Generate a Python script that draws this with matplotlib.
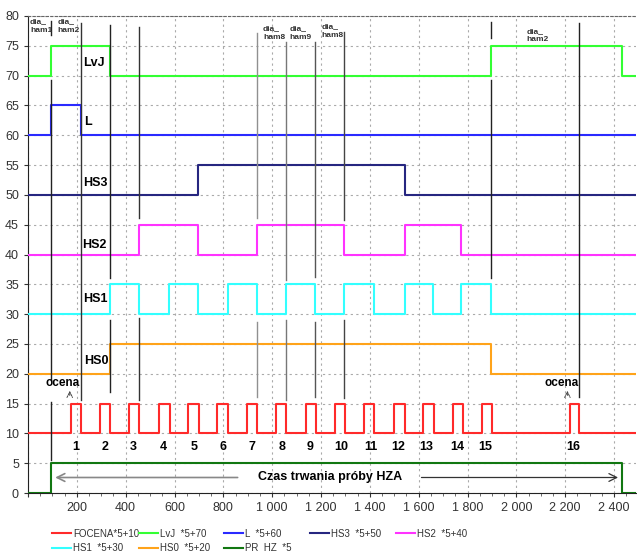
import numpy as np
import matplotlib
matplotlib.use('Agg')
import matplotlib.pyplot as plt
from matplotlib.lines import Line2D
from matplotlib.ticker import FuncFormatter, MultipleLocator

plt.rcParams['font.family'] = ['Liberation Sans', 'DejaVu Sans']

# --- data: edges (x) of 0/1 step signals, values between edges ---
x_end = 2490
focena_x = [0, 176, 218, 296, 335, 413, 454, 536, 580, 656, 699, 775, 819, 897, 939,
            1017, 1058, 1137, 1178, 1258, 1299, 1378, 1419, 1497, 1542, 1617, 1661,
            1740, 1781, 1860, 1899, 2220, 2258]
lvj_x = [0, 93, 335, 1898, 2433]
l_x = [0, 93, 216]
hs3_x = [0, 697, 1542]
hs2_x = [0, 454, 697, 937, 1296, 1542, 1775]
hs1_x = [0, 335, 454, 577, 697, 819, 937, 1058, 1177, 1296, 1418, 1542, 1660, 1775, 1898]
hs0_x = [0, 335, 1898]
prhz_x = [0, 93, 2433]

series_names = ['FOCENA*5+10', 'LvJ  *5+70', 'L  *5+60', 'HS3  *5+50', 'HS2  *5+40',
                'HS1  *5+30', 'HS0  *5+20', 'PR  HZ  *5']
series_edges = [focena_x, lvj_x, l_x, hs3_x, hs2_x, hs1_x, hs0_x, prhz_x]
series_offsets = [10, 70, 60, 50, 40, 30, 20, 0]
series_colors = ['#ff2a2a', '#33ff33', '#2a2aff', '#262680', '#ff33ff',
                 '#33ffff', '#ffa31a', '#117711']

# signal name labels
name_labels = ['LvJ', 'L', 'HS3', 'HS2', 'HS1', 'HS0']
name_x = [226, 230, 226, 222, 226, 230]
name_y = [72.2, 62.2, 52.0, 41.6, 32.6, 22.2]

# pulse numbers
pulse_nums = [str(i) for i in range(1, 17)]
pulse_x = [196, 314, 433, 553, 680, 800, 916, 1039, 1157, 1283, 1403, 1517, 1630, 1759, 1872, 2234]

# vertical marker lines: x, list of (y0, y1), colour
marker_x = [93, 216, 335, 454, 937, 1058, 1176, 1296, 1898, 2258]
marker_segs = [[(79.2, 76.8), (69.3, 19.0), (15.3, 5.5)],
               [(78.9, 15.6)],
               [(78.5, 36.1), (29.0, 16.9)],
               [(78.2, 46.1), (29.4, 15.6)],
               [(77.2, 46.1), (28.7, 16.1)],
               [(75.7, 35.7), (29.0, 15.6)],
               [(75.7, 36.2), (28.7, 16.1)],
               [(77.3, 45.8), (29.0, 15.9)],
               [(79.0, 76.3), (69.3, 36.1)],
               [(78.9, 16.1)]]
marker_colors = ['#222222', '#333333', '#222222', '#333333', '#909090', '#777777',
                 '#555555', '#444444', '#222222', '#222222']

dia_labels = ['dia_\nham1', 'dia_\nham2', 'dia_\nham8', 'dia_\nham9', 'dia_\nham8', 'dia_\nham2']
dia_x = [8, 120, 962, 1072, 1202, 2042]
dia_y = [79.6, 79.6, 78.4, 78.4, 78.8, 78.0]

fig = plt.figure(figsize=(6.37, 5.58), dpi=100)
ax = fig.add_axes([28 / 637, 65 / 558, 608 / 637, 477 / 558])

for edges, off, col in zip(series_edges, series_offsets, series_colors):
    xs = list(edges) + [x_end]
    vals = [(i % 2) * 5 + off for i in range(len(edges))]
    vals = vals + [vals[-1]]
    ax.plot(xs, vals, drawstyle='steps-post', color=col, lw=1.5, zorder=3)

for x, segs, c in zip(marker_x, marker_segs, marker_colors):
    for y0, y1 in segs:
        ax.plot([x, x], [y0, y1], color=c, lw=1.0, zorder=4)

for t, x, y in zip(name_labels, name_x, name_y):
    ax.text(x, y, t, fontsize=9, fontweight='bold', ha='left', va='center', zorder=5)

for t, x in zip(pulse_nums, pulse_x):
    ax.text(x, 7.7, t, fontsize=9, fontweight='bold', ha='center', va='center', zorder=5)

for t, x, y in zip(dia_labels, dia_x, dia_y):
    ax.text(x, y, t, fontsize=6, fontweight='bold', ha='left', va='top', color='#333333',
            linespacing=1.3, zorder=5)

# ocena annotations
for xc, xa in [(142, 171), (2185, 2209)]:
    ax.text(xc, 18.4, 'ocena', fontsize=8.5, fontweight='bold', ha='center', va='center', zorder=5)
    ax.annotate('', xy=(xa, 17.6), xytext=(xa, 15.9),
                arrowprops=dict(arrowstyle='->', color='#444444', lw=0.7, linestyle=(0, (2, 1))))

# test duration arrow
ax.text(1236, 2.6, 'Czas trwania próby HZA', fontsize=9, fontweight='bold', ha='center',
        va='center', zorder=5)
ax.annotate('', xy=(100, 2.6), xytext=(870, 2.6),
            arrowprops=dict(arrowstyle='->', color='#888888', lw=1.2, mutation_scale=14))
ax.annotate('', xy=(2428, 2.6), xytext=(1600, 2.6),
            arrowprops=dict(arrowstyle='->', color='#333333', lw=0.9, mutation_scale=14))

ax.set_xlim(0, x_end)
ax.set_ylim(0, 80)
ax.xaxis.set_major_locator(MultipleLocator(200))
ax.xaxis.set_minor_locator(MultipleLocator(50))
ax.yaxis.set_major_locator(MultipleLocator(5))
ax.xaxis.set_major_formatter(FuncFormatter(
    lambda v, p: '' if v <= 0 else '{:,}'.format(int(v)).replace(',', ' ')))
ax.grid(True, which='major', color='#aaaaaa', linestyle=(0, (2, 3)), lw=0.8)
ax.tick_params(axis='both', labelsize=9, labelcolor='#333333', length=3, color='#333333')
ax.tick_params(axis='x', which='minor', length=2, color='#555555')
ax.spines['right'].set_visible(False)
ax.spines['top'].set_linestyle((0, (2, 2)))
ax.spines['top'].set_color('#666666')
ax.spines['left'].set_color('#222222')
ax.spines['bottom'].set_color('#222222')
ax.set_axisbelow(True)

# legend, five fixed-width columns
col_members = [[0, 5], [1, 6], [2, 7], [3], [4]]
col_px = [50, 137, 222, 308, 394]
for members, px in zip(col_members, col_px):
    handles = [Line2D([], [], color=series_colors[i], lw=1.5) for i in members]
    labels = [series_names[i] for i in members]
    fig.legend(handles, labels, loc='upper left',
               bbox_to_anchor=((px - 3) / 637, 1 - 524 / 558), frameon=False,
               fontsize=7, handlelength=2.0, handletextpad=0.15, labelspacing=0.45,
               borderpad=0.0, labelcolor='#333333')

fig.savefig('out.png', dpi=100)
